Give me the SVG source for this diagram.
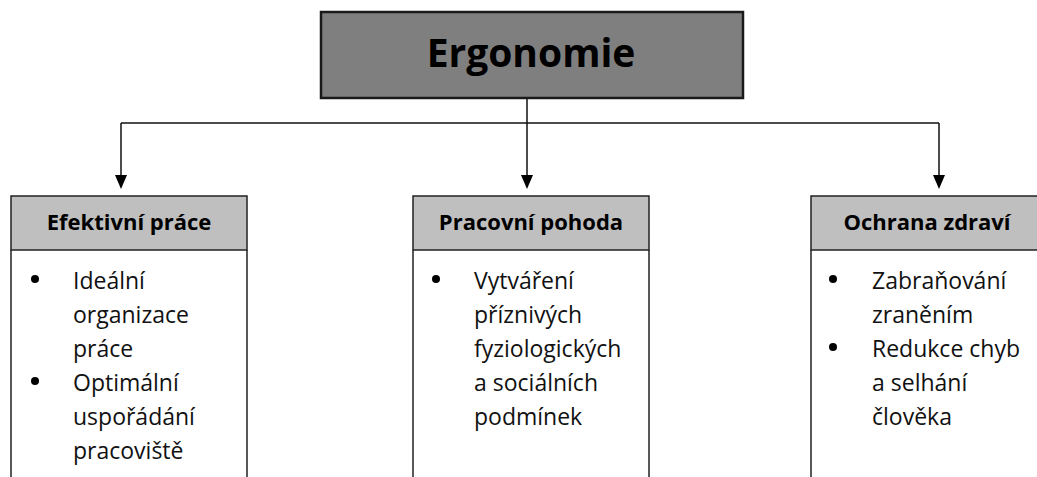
<svg xmlns="http://www.w3.org/2000/svg" width="1037" height="477" viewBox="0 0 1037 477">
<defs>
<style>
.title{font-family:"Open Sans","Liberation Sans",sans-serif;font-weight:bold;font-size:39px;fill:#000;text-anchor:middle}
.head{font-family:"Open Sans","Liberation Sans",sans-serif;font-weight:bold;font-size:22px;fill:#000;text-anchor:middle}
.body{font-family:"Open Sans","Liberation Sans",sans-serif;font-size:23px;fill:#111}
.hdr{fill:#bfbfbf;stroke:#222;stroke-width:1.5}
.card{fill:#fff;stroke:#222;stroke-width:1.5}
.conn{fill:none;stroke:#111;stroke-width:1.5}
.bul{fill:#000}
</style>
<marker id="arr" viewBox="0 0 12 14" refX="6" refY="14" markerWidth="12" markerHeight="14" markerUnits="userSpaceOnUse" orient="auto-start-reverse">
<path d="M0,0 L12,0 L6,14 Z" fill="#000"/>
</marker>
</defs>
<rect width="1037" height="477" fill="#fff"/>

<g id="connectors">
<line class="conn" x1="121" y1="123" x2="939" y2="123"/>
<line class="conn" x1="527" y1="98" x2="527" y2="175"/>
<line class="conn" x1="121" y1="123" x2="121" y2="175"/>
<line class="conn" x1="939" y1="123" x2="939" y2="175"/>
<path d="M115,175 L127,175 L121,189 Z" fill="#000"/>
<path d="M521,175 L533,175 L527,189 Z" fill="#000"/>
<path d="M933,175 L945,175 L939,189 Z" fill="#000"/>
</g>

<g id="ergonomie">
<rect x="321" y="12" width="422" height="86" fill="#7f7f7f" stroke="#1a1a1a" stroke-width="2.5"/>
<text class="title" x="531" y="67">Ergonomie</text>
</g>

<g id="efektivni-prace">
<path class="card" d="M11,250 L11,480 M247,250 L247,480"/>
<rect class="hdr" x="11" y="196" width="236" height="54"/>
<text class="head" x="129" y="230">Efektivní práce</text>
<circle class="bul" cx="35" cy="279" r="4"/>
<circle class="bul" cx="35" cy="381" r="4"/>
<text class="body" x="73" y="289">Ideální</text>
<text class="body" x="73" y="323">organizace</text>
<text class="body" x="73" y="357">práce</text>
<text class="body" x="73" y="391">Optimální</text>
<text class="body" x="73" y="425">uspořádání</text>
<text class="body" x="73" y="459">pracoviště</text>
</g>

<g id="pracovni-pohoda">
<path class="card" d="M413,250 L413,480 M649,250 L649,480"/>
<rect class="hdr" x="413" y="196" width="236" height="54"/>
<text class="head" x="531" y="230">Pracovní pohoda</text>
<circle class="bul" cx="436" cy="279" r="4"/>
<text class="body" x="474" y="289">Vytváření</text>
<text class="body" x="474" y="323">příznivých</text>
<text class="body" x="474" y="357">fyziologických</text>
<text class="body" x="474" y="391">a sociálních</text>
<text class="body" x="474" y="425">podmínek</text>
</g>

<g id="ochrana-zdravi">
<path class="card" d="M811,250 L811,480 M1045,250 L1045,480"/>
<rect class="hdr" x="811" y="196" width="234" height="54"/>
<text class="head" x="927" y="230">Ochrana zdraví</text>
<circle class="bul" cx="833" cy="279" r="4"/>
<circle class="bul" cx="833" cy="347" r="4"/>
<text class="body" x="872" y="289">Zabraňování</text>
<text class="body" x="872" y="323">zraněním</text>
<text class="body" x="872" y="357">Redukce chyb</text>
<text class="body" x="872" y="391">a selhání</text>
<text class="body" x="872" y="425">člověka</text>
</g>
</svg>
